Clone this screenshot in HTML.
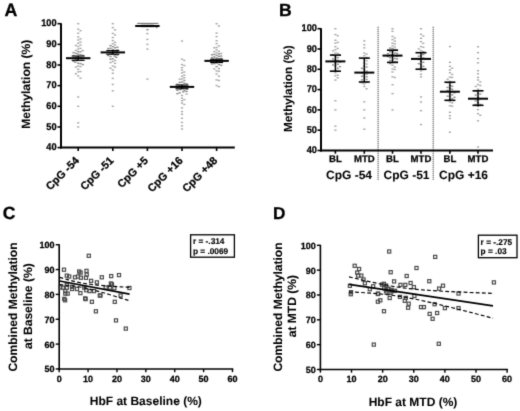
<!DOCTYPE html>
<html><head><meta charset="utf-8"><style>
html,body{margin:0;padding:0;background:#fff;}
svg{display:block;font-family:"Liberation Sans", sans-serif;text-rendering:geometricPrecision;}
text{stroke:#000;stroke-width:0.05px;}
text.s{stroke:#000;stroke-width:0.25px;}
</style></head><body>
<svg width="520" height="411" viewBox="0 0 520 411">
<defs><filter id="bl" x="0" y="0" width="520" height="411" filterUnits="userSpaceOnUse" color-interpolation-filters="sRGB"><feConvolveMatrix order="3" kernelMatrix="0.0144 0.0912 0.0144 0.0912 0.5776 0.0912 0.0144 0.0912 0.0144" divisor="1" edgeMode="duplicate"/></filter></defs>
<rect width="520" height="411" fill="#fff"/>
<g filter="url(#bl)">
<rect width="520" height="411" fill="#fff"/>
<text x="4.60" y="16.10" font-size="17.8" text-anchor="start" font-weight="bold" style="stroke-width:0.3px">A</text>
<line x1="61.00" y1="23.20" x2="61.00" y2="148.60" stroke="#000" stroke-width="2" />
<line x1="60.00" y1="147.60" x2="234.80" y2="147.60" stroke="#000" stroke-width="2" />
<line x1="57.50" y1="147.60" x2="61.00" y2="147.60" stroke="#000" stroke-width="1.6" />
<text class="s" transform="translate(56.6,150.35) scale(0.94,1)" font-size="9.8" text-anchor="end" font-weight="bold">40</text>
<line x1="57.50" y1="126.95" x2="61.00" y2="126.95" stroke="#000" stroke-width="1.6" />
<text class="s" transform="translate(56.6,129.70) scale(0.94,1)" font-size="9.8" text-anchor="end" font-weight="bold">50</text>
<line x1="57.50" y1="106.30" x2="61.00" y2="106.30" stroke="#000" stroke-width="1.6" />
<text class="s" transform="translate(56.6,109.05) scale(0.94,1)" font-size="9.8" text-anchor="end" font-weight="bold">60</text>
<line x1="57.50" y1="85.65" x2="61.00" y2="85.65" stroke="#000" stroke-width="1.6" />
<text class="s" transform="translate(56.6,88.40) scale(0.94,1)" font-size="9.8" text-anchor="end" font-weight="bold">70</text>
<line x1="57.50" y1="65.00" x2="61.00" y2="65.00" stroke="#000" stroke-width="1.6" />
<text class="s" transform="translate(56.6,67.75) scale(0.94,1)" font-size="9.8" text-anchor="end" font-weight="bold">80</text>
<line x1="57.50" y1="44.35" x2="61.00" y2="44.35" stroke="#000" stroke-width="1.6" />
<text class="s" transform="translate(56.6,47.10) scale(0.94,1)" font-size="9.8" text-anchor="end" font-weight="bold">90</text>
<line x1="57.50" y1="23.70" x2="61.00" y2="23.70" stroke="#000" stroke-width="1.6" />
<text class="s" transform="translate(56.6,26.45) scale(0.94,1)" font-size="9.8" text-anchor="end" font-weight="bold">100</text>
<line x1="78.20" y1="147.60" x2="78.20" y2="151.00" stroke="#000" stroke-width="1.6" />
<line x1="112.80" y1="147.60" x2="112.80" y2="151.00" stroke="#000" stroke-width="1.6" />
<line x1="147.40" y1="147.60" x2="147.40" y2="151.00" stroke="#000" stroke-width="1.6" />
<line x1="182.00" y1="147.60" x2="182.00" y2="151.00" stroke="#000" stroke-width="1.6" />
<line x1="216.60" y1="147.60" x2="216.60" y2="151.00" stroke="#000" stroke-width="1.6" />
<text class="s" transform="translate(79.70,161.30) rotate(-45)" font-size="10.9" text-anchor="end" font-weight="bold">CpG -54</text>
<text class="s" transform="translate(114.30,161.30) rotate(-45)" font-size="10.9" text-anchor="end" font-weight="bold">CpG -51</text>
<text class="s" transform="translate(148.90,161.30) rotate(-45)" font-size="10.9" text-anchor="end" font-weight="bold">CpG +5</text>
<text class="s" transform="translate(183.50,161.30) rotate(-45)" font-size="10.9" text-anchor="end" font-weight="bold">CpG +16</text>
<text class="s" transform="translate(218.10,161.30) rotate(-45)" font-size="10.9" text-anchor="end" font-weight="bold">CpG +48</text>
<text transform="translate(30.3,84.3) rotate(-90)" font-size="12.05" text-anchor="middle" font-weight="bold">Methylation (%)</text>
<text x="279.00" y="15.50" font-size="17.6" text-anchor="start" font-weight="bold" style="stroke-width:0.3px">B</text>
<line x1="321.00" y1="28.20" x2="321.00" y2="151.50" stroke="#000" stroke-width="2" />
<line x1="320.00" y1="150.50" x2="493.00" y2="150.50" stroke="#000" stroke-width="2" />
<line x1="317.50" y1="150.50" x2="321.00" y2="150.50" stroke="#000" stroke-width="1.6" />
<text class="s" transform="translate(317.0,153.25) scale(0.94,1)" font-size="9.8" text-anchor="end" font-weight="bold">40</text>
<line x1="317.50" y1="130.20" x2="321.00" y2="130.20" stroke="#000" stroke-width="1.6" />
<text class="s" transform="translate(317.0,132.95) scale(0.94,1)" font-size="9.8" text-anchor="end" font-weight="bold">50</text>
<line x1="317.50" y1="109.90" x2="321.00" y2="109.90" stroke="#000" stroke-width="1.6" />
<text class="s" transform="translate(317.0,112.65) scale(0.94,1)" font-size="9.8" text-anchor="end" font-weight="bold">60</text>
<line x1="317.50" y1="89.60" x2="321.00" y2="89.60" stroke="#000" stroke-width="1.6" />
<text class="s" transform="translate(317.0,92.35) scale(0.94,1)" font-size="9.8" text-anchor="end" font-weight="bold">70</text>
<line x1="317.50" y1="69.30" x2="321.00" y2="69.30" stroke="#000" stroke-width="1.6" />
<text class="s" transform="translate(317.0,72.05) scale(0.94,1)" font-size="9.8" text-anchor="end" font-weight="bold">80</text>
<line x1="317.50" y1="49.00" x2="321.00" y2="49.00" stroke="#000" stroke-width="1.6" />
<text class="s" transform="translate(317.0,51.75) scale(0.94,1)" font-size="9.8" text-anchor="end" font-weight="bold">90</text>
<line x1="317.50" y1="28.70" x2="321.00" y2="28.70" stroke="#000" stroke-width="1.6" />
<text class="s" transform="translate(317.0,31.45) scale(0.94,1)" font-size="9.8" text-anchor="end" font-weight="bold">100</text>
<line x1="335.40" y1="150.50" x2="335.40" y2="153.70" stroke="#000" stroke-width="1.6" />
<line x1="364.30" y1="150.50" x2="364.30" y2="153.70" stroke="#000" stroke-width="1.6" />
<line x1="392.50" y1="150.50" x2="392.50" y2="153.70" stroke="#000" stroke-width="1.6" />
<line x1="421.00" y1="150.50" x2="421.00" y2="153.70" stroke="#000" stroke-width="1.6" />
<line x1="449.90" y1="150.50" x2="449.90" y2="153.70" stroke="#000" stroke-width="1.6" />
<line x1="478.00" y1="150.50" x2="478.00" y2="153.70" stroke="#000" stroke-width="1.6" />
<text class="s" x="335.40" y="162.40" font-size="9.6" text-anchor="middle" font-weight="bold" >BL</text>
<text class="s" x="364.30" y="162.40" font-size="9.6" text-anchor="middle" font-weight="bold" >MTD</text>
<text class="s" x="392.50" y="162.40" font-size="9.6" text-anchor="middle" font-weight="bold" >BL</text>
<text class="s" x="421.00" y="162.40" font-size="9.6" text-anchor="middle" font-weight="bold" >MTD</text>
<text class="s" x="449.90" y="162.40" font-size="9.6" text-anchor="middle" font-weight="bold" >BL</text>
<text class="s" x="478.00" y="162.40" font-size="9.6" text-anchor="middle" font-weight="bold" >MTD</text>
<text x="349.00" y="178.80" font-size="12" text-anchor="middle" font-weight="bold" >CpG -54</text>
<text x="406.50" y="178.80" font-size="12" text-anchor="middle" font-weight="bold" >CpG -51</text>
<text x="463.50" y="178.80" font-size="12" text-anchor="middle" font-weight="bold" >CpG +16</text>
<line x1="378.10" y1="26.80" x2="378.10" y2="180.50" stroke="#333" stroke-width="1.1" stroke-dasharray="1,1"/>
<line x1="433.20" y1="26.80" x2="433.20" y2="180.50" stroke="#333" stroke-width="1.1" stroke-dasharray="1,1"/>
<text transform="translate(291.8,88.7) rotate(-90)" font-size="11.75" text-anchor="middle" font-weight="bold">Methylation (%)</text>
<rect x="77.10" y="23.00" width="2.20" height="1.4" fill="#a8a8a8"/>
<rect x="77.10" y="28.44" width="2.20" height="1.4" fill="#a8a8a8"/>
<rect x="79.40" y="30.01" width="2.20" height="1.4" fill="#a8a8a8"/>
<rect x="77.10" y="32.58" width="2.20" height="1.4" fill="#a8a8a8"/>
<rect x="77.10" y="36.20" width="2.20" height="1.4" fill="#a8a8a8"/>
<rect x="79.40" y="38.18" width="2.20" height="1.4" fill="#a8a8a8"/>
<rect x="77.10" y="39.31" width="2.20" height="1.4" fill="#a8a8a8"/>
<rect x="79.40" y="41.43" width="2.20" height="1.4" fill="#a8a8a8"/>
<rect x="77.10" y="42.52" width="2.20" height="1.4" fill="#a8a8a8"/>
<rect x="79.40" y="44.34" width="2.20" height="1.4" fill="#a8a8a8"/>
<rect x="74.80" y="44.74" width="2.20" height="1.4" fill="#a8a8a8"/>
<rect x="77.10" y="45.78" width="2.20" height="1.4" fill="#a8a8a8"/>
<rect x="79.40" y="47.73" width="2.20" height="1.4" fill="#a8a8a8"/>
<rect x="77.10" y="48.34" width="2.20" height="1.4" fill="#a8a8a8"/>
<rect x="74.80" y="49.76" width="2.20" height="1.4" fill="#a8a8a8"/>
<rect x="81.70" y="49.87" width="2.20" height="1.4" fill="#a8a8a8"/>
<rect x="77.10" y="50.95" width="2.20" height="1.4" fill="#8c8c8c"/>
<rect x="79.40" y="51.11" width="2.20" height="1.4" fill="#8c8c8c"/>
<rect x="72.50" y="51.93" width="2.20" height="1.4" fill="#8c8c8c"/>
<rect x="74.80" y="52.73" width="2.20" height="1.4" fill="#8c8c8c"/>
<rect x="77.10" y="53.45" width="2.20" height="1.4" fill="#8c8c8c"/>
<rect x="79.40" y="54.07" width="2.20" height="1.4" fill="#8c8c8c"/>
<rect x="81.70" y="54.67" width="2.20" height="1.4" fill="#8c8c8c"/>
<rect x="72.50" y="54.94" width="2.20" height="1.4" fill="#8c8c8c"/>
<rect x="77.10" y="55.85" width="2.20" height="1.4" fill="#8c8c8c"/>
<rect x="74.80" y="56.14" width="2.20" height="1.4" fill="#8c8c8c"/>
<rect x="79.40" y="56.78" width="2.20" height="1.4" fill="#8c8c8c"/>
<rect x="81.70" y="57.41" width="2.20" height="1.4" fill="#8c8c8c"/>
<rect x="72.50" y="57.82" width="2.20" height="1.4" fill="#8c8c8c"/>
<rect x="81.23" y="58.04" width="2.20" height="1.4" fill="#8c8c8c"/>
<rect x="77.10" y="58.72" width="2.20" height="1.4" fill="#8c8c8c"/>
<rect x="74.80" y="58.88" width="2.20" height="1.4" fill="#8c8c8c"/>
<rect x="80.20" y="59.30" width="2.20" height="1.4" fill="#8c8c8c"/>
<rect x="76.15" y="59.92" width="2.20" height="1.4" fill="#8c8c8c"/>
<rect x="72.50" y="60.49" width="2.20" height="1.4" fill="#8c8c8c"/>
<rect x="74.21" y="61.54" width="2.20" height="1.4" fill="#8c8c8c"/>
<rect x="77.10" y="62.62" width="2.20" height="1.4" fill="#8c8c8c"/>
<rect x="79.40" y="62.90" width="2.20" height="1.4" fill="#8c8c8c"/>
<rect x="81.70" y="63.85" width="2.20" height="1.4" fill="#8c8c8c"/>
<rect x="77.10" y="65.31" width="2.20" height="1.4" fill="#a8a8a8"/>
<rect x="79.40" y="65.86" width="2.20" height="1.4" fill="#a8a8a8"/>
<rect x="74.80" y="66.41" width="2.20" height="1.4" fill="#a8a8a8"/>
<rect x="77.10" y="68.60" width="2.20" height="1.4" fill="#a8a8a8"/>
<rect x="79.40" y="70.82" width="2.20" height="1.4" fill="#a8a8a8"/>
<rect x="77.10" y="71.16" width="2.20" height="1.4" fill="#a8a8a8"/>
<rect x="74.80" y="73.02" width="2.20" height="1.4" fill="#a8a8a8"/>
<rect x="77.10" y="75.21" width="2.20" height="1.4" fill="#a8a8a8"/>
<rect x="79.40" y="77.50" width="2.20" height="1.4" fill="#a8a8a8"/>
<rect x="77.10" y="96.31" width="2.20" height="1.4" fill="#a8a8a8"/>
<rect x="77.10" y="105.60" width="2.20" height="1.4" fill="#a8a8a8"/>
<rect x="77.10" y="122.12" width="2.20" height="1.4" fill="#a8a8a8"/>
<rect x="77.10" y="126.25" width="2.20" height="1.4" fill="#a8a8a8"/>
<rect x="111.70" y="23.00" width="2.20" height="1.4" fill="#a8a8a8"/>
<rect x="111.70" y="26.94" width="2.20" height="1.4" fill="#a8a8a8"/>
<rect x="114.00" y="29.16" width="2.20" height="1.4" fill="#a8a8a8"/>
<rect x="111.70" y="32.73" width="2.20" height="1.4" fill="#a8a8a8"/>
<rect x="114.00" y="34.22" width="2.20" height="1.4" fill="#a8a8a8"/>
<rect x="111.70" y="36.86" width="2.20" height="1.4" fill="#a8a8a8"/>
<rect x="111.70" y="39.90" width="2.20" height="1.4" fill="#a8a8a8"/>
<rect x="114.00" y="41.64" width="2.20" height="1.4" fill="#a8a8a8"/>
<rect x="111.70" y="42.96" width="2.20" height="1.4" fill="#a8a8a8"/>
<rect x="114.00" y="44.21" width="2.20" height="1.4" fill="#a8a8a8"/>
<rect x="109.40" y="44.89" width="2.20" height="1.4" fill="#8c8c8c"/>
<rect x="111.70" y="45.90" width="2.20" height="1.4" fill="#8c8c8c"/>
<rect x="116.30" y="46.58" width="2.20" height="1.4" fill="#8c8c8c"/>
<rect x="114.00" y="47.02" width="2.20" height="1.4" fill="#8c8c8c"/>
<rect x="109.40" y="47.59" width="2.20" height="1.4" fill="#8c8c8c"/>
<rect x="107.10" y="47.90" width="2.20" height="1.4" fill="#8c8c8c"/>
<rect x="111.70" y="48.77" width="2.20" height="1.4" fill="#8c8c8c"/>
<rect x="116.30" y="49.23" width="2.20" height="1.4" fill="#8c8c8c"/>
<rect x="114.00" y="49.81" width="2.20" height="1.4" fill="#8c8c8c"/>
<rect x="107.31" y="49.86" width="2.20" height="1.4" fill="#8c8c8c"/>
<rect x="115.87" y="50.77" width="2.20" height="1.4" fill="#8c8c8c"/>
<rect x="111.70" y="51.19" width="2.20" height="1.4" fill="#8c8c8c"/>
<rect x="114.87" y="51.45" width="2.20" height="1.4" fill="#8c8c8c"/>
<rect x="108.76" y="52.08" width="2.20" height="1.4" fill="#8c8c8c"/>
<rect x="111.65" y="52.59" width="2.20" height="1.4" fill="#8c8c8c"/>
<rect x="111.09" y="53.03" width="2.20" height="1.4" fill="#8c8c8c"/>
<rect x="114.00" y="53.92" width="2.20" height="1.4" fill="#8c8c8c"/>
<rect x="116.30" y="54.33" width="2.20" height="1.4" fill="#8c8c8c"/>
<rect x="107.10" y="54.79" width="2.20" height="1.4" fill="#8c8c8c"/>
<rect x="113.52" y="55.42" width="2.20" height="1.4" fill="#8c8c8c"/>
<rect x="109.40" y="55.83" width="2.20" height="1.4" fill="#8c8c8c"/>
<rect x="115.16" y="56.59" width="2.20" height="1.4" fill="#8c8c8c"/>
<rect x="111.70" y="58.10" width="2.20" height="1.4" fill="#8c8c8c"/>
<rect x="109.40" y="58.45" width="2.20" height="1.4" fill="#8c8c8c"/>
<rect x="114.00" y="59.75" width="2.20" height="1.4" fill="#a8a8a8"/>
<rect x="111.70" y="60.77" width="2.20" height="1.4" fill="#a8a8a8"/>
<rect x="109.40" y="61.84" width="2.20" height="1.4" fill="#a8a8a8"/>
<rect x="114.00" y="62.69" width="2.20" height="1.4" fill="#a8a8a8"/>
<rect x="111.70" y="65.30" width="2.20" height="1.4" fill="#a8a8a8"/>
<rect x="114.00" y="66.35" width="2.20" height="1.4" fill="#a8a8a8"/>
<rect x="109.40" y="67.60" width="2.20" height="1.4" fill="#a8a8a8"/>
<rect x="111.70" y="69.33" width="2.20" height="1.4" fill="#a8a8a8"/>
<rect x="111.70" y="72.54" width="2.20" height="1.4" fill="#a8a8a8"/>
<rect x="111.70" y="77.72" width="2.20" height="1.4" fill="#a8a8a8"/>
<rect x="111.70" y="83.71" width="2.20" height="1.4" fill="#a8a8a8"/>
<rect x="111.70" y="90.11" width="2.20" height="1.4" fill="#a8a8a8"/>
<rect x="111.70" y="105.60" width="2.20" height="1.4" fill="#a8a8a8"/>
<rect x="146.30" y="25.00" width="2.20" height="1.4" fill="#8c8c8c"/>
<rect x="148.60" y="25.10" width="2.20" height="1.4" fill="#8c8c8c"/>
<rect x="144.00" y="25.17" width="2.20" height="1.4" fill="#8c8c8c"/>
<rect x="150.90" y="25.25" width="2.20" height="1.4" fill="#8c8c8c"/>
<rect x="141.70" y="25.39" width="2.20" height="1.4" fill="#8c8c8c"/>
<rect x="153.20" y="25.44" width="2.20" height="1.4" fill="#8c8c8c"/>
<rect x="139.40" y="25.57" width="2.20" height="1.4" fill="#8c8c8c"/>
<rect x="155.50" y="26.72" width="2.20" height="1.4" fill="#8c8c8c"/>
<rect x="146.30" y="28.99" width="2.20" height="1.4" fill="#8c8c8c"/>
<rect x="146.30" y="32.91" width="2.20" height="1.4" fill="#a8a8a8"/>
<rect x="146.30" y="38.69" width="2.20" height="1.4" fill="#a8a8a8"/>
<rect x="146.30" y="43.65" width="2.20" height="1.4" fill="#a8a8a8"/>
<rect x="146.30" y="48.40" width="2.20" height="1.4" fill="#a8a8a8"/>
<rect x="146.30" y="78.34" width="2.20" height="1.4" fill="#a8a8a8"/>
<rect x="180.90" y="40.35" width="2.20" height="1.4" fill="#a8a8a8"/>
<rect x="180.90" y="58.48" width="2.20" height="1.4" fill="#a8a8a8"/>
<rect x="183.20" y="59.71" width="2.20" height="1.4" fill="#a8a8a8"/>
<rect x="180.90" y="63.86" width="2.20" height="1.4" fill="#a8a8a8"/>
<rect x="183.20" y="64.85" width="2.20" height="1.4" fill="#a8a8a8"/>
<rect x="180.90" y="66.95" width="2.20" height="1.4" fill="#a8a8a8"/>
<rect x="180.90" y="69.39" width="2.20" height="1.4" fill="#a8a8a8"/>
<rect x="183.20" y="71.34" width="2.20" height="1.4" fill="#a8a8a8"/>
<rect x="180.90" y="72.14" width="2.20" height="1.4" fill="#a8a8a8"/>
<rect x="183.20" y="74.50" width="2.20" height="1.4" fill="#a8a8a8"/>
<rect x="180.90" y="75.59" width="2.20" height="1.4" fill="#a8a8a8"/>
<rect x="183.20" y="77.00" width="2.20" height="1.4" fill="#a8a8a8"/>
<rect x="180.90" y="78.19" width="2.20" height="1.4" fill="#a8a8a8"/>
<rect x="178.60" y="78.50" width="2.20" height="1.4" fill="#a8a8a8"/>
<rect x="183.20" y="79.72" width="2.20" height="1.4" fill="#8c8c8c"/>
<rect x="180.90" y="81.30" width="2.20" height="1.4" fill="#8c8c8c"/>
<rect x="178.60" y="81.69" width="2.20" height="1.4" fill="#8c8c8c"/>
<rect x="183.20" y="82.51" width="2.20" height="1.4" fill="#8c8c8c"/>
<rect x="185.50" y="83.12" width="2.20" height="1.4" fill="#8c8c8c"/>
<rect x="176.30" y="83.64" width="2.20" height="1.4" fill="#8c8c8c"/>
<rect x="180.90" y="84.35" width="2.20" height="1.4" fill="#8c8c8c"/>
<rect x="178.60" y="84.46" width="2.20" height="1.4" fill="#8c8c8c"/>
<rect x="183.20" y="85.34" width="2.20" height="1.4" fill="#8c8c8c"/>
<rect x="185.50" y="85.56" width="2.20" height="1.4" fill="#8c8c8c"/>
<rect x="176.30" y="86.20" width="2.20" height="1.4" fill="#8c8c8c"/>
<rect x="177.76" y="86.61" width="2.20" height="1.4" fill="#8c8c8c"/>
<rect x="180.90" y="87.32" width="2.20" height="1.4" fill="#8c8c8c"/>
<rect x="181.43" y="87.67" width="2.20" height="1.4" fill="#8c8c8c"/>
<rect x="185.50" y="88.19" width="2.20" height="1.4" fill="#8c8c8c"/>
<rect x="179.34" y="88.87" width="2.20" height="1.4" fill="#8c8c8c"/>
<rect x="176.30" y="89.60" width="2.20" height="1.4" fill="#8c8c8c"/>
<rect x="183.20" y="90.13" width="2.20" height="1.4" fill="#8c8c8c"/>
<rect x="185.50" y="90.72" width="2.20" height="1.4" fill="#8c8c8c"/>
<rect x="182.15" y="91.18" width="2.20" height="1.4" fill="#8c8c8c"/>
<rect x="178.60" y="92.12" width="2.20" height="1.4" fill="#8c8c8c"/>
<rect x="176.30" y="92.96" width="2.20" height="1.4" fill="#8c8c8c"/>
<rect x="185.50" y="93.39" width="2.20" height="1.4" fill="#a8a8a8"/>
<rect x="180.90" y="94.78" width="2.20" height="1.4" fill="#a8a8a8"/>
<rect x="180.90" y="97.52" width="2.20" height="1.4" fill="#a8a8a8"/>
<rect x="183.20" y="98.97" width="2.20" height="1.4" fill="#a8a8a8"/>
<rect x="180.90" y="100.01" width="2.20" height="1.4" fill="#a8a8a8"/>
<rect x="180.90" y="102.44" width="2.20" height="1.4" fill="#a8a8a8"/>
<rect x="183.20" y="103.75" width="2.20" height="1.4" fill="#a8a8a8"/>
<rect x="180.90" y="107.21" width="2.20" height="1.4" fill="#a8a8a8"/>
<rect x="180.90" y="110.88" width="2.20" height="1.4" fill="#a8a8a8"/>
<rect x="180.90" y="113.59" width="2.20" height="1.4" fill="#a8a8a8"/>
<rect x="180.90" y="117.54" width="2.20" height="1.4" fill="#a8a8a8"/>
<rect x="180.90" y="121.71" width="2.20" height="1.4" fill="#a8a8a8"/>
<rect x="180.90" y="125.21" width="2.20" height="1.4" fill="#a8a8a8"/>
<rect x="180.90" y="128.31" width="2.20" height="1.4" fill="#a8a8a8"/>
<rect x="215.50" y="23.00" width="2.20" height="1.4" fill="#a8a8a8"/>
<rect x="217.80" y="25.31" width="2.20" height="1.4" fill="#a8a8a8"/>
<rect x="215.50" y="32.37" width="2.20" height="1.4" fill="#a8a8a8"/>
<rect x="215.50" y="35.92" width="2.20" height="1.4" fill="#a8a8a8"/>
<rect x="215.50" y="40.11" width="2.20" height="1.4" fill="#a8a8a8"/>
<rect x="215.50" y="42.97" width="2.20" height="1.4" fill="#a8a8a8"/>
<rect x="217.80" y="45.24" width="2.20" height="1.4" fill="#a8a8a8"/>
<rect x="215.50" y="46.81" width="2.20" height="1.4" fill="#a8a8a8"/>
<rect x="213.20" y="47.08" width="2.20" height="1.4" fill="#a8a8a8"/>
<rect x="215.50" y="49.23" width="2.20" height="1.4" fill="#a8a8a8"/>
<rect x="217.80" y="50.65" width="2.20" height="1.4" fill="#a8a8a8"/>
<rect x="213.20" y="50.91" width="2.20" height="1.4" fill="#a8a8a8"/>
<rect x="215.50" y="52.11" width="2.20" height="1.4" fill="#a8a8a8"/>
<rect x="220.10" y="52.78" width="2.20" height="1.4" fill="#a8a8a8"/>
<rect x="217.80" y="53.26" width="2.20" height="1.4" fill="#8c8c8c"/>
<rect x="213.20" y="53.67" width="2.20" height="1.4" fill="#8c8c8c"/>
<rect x="210.90" y="54.05" width="2.20" height="1.4" fill="#8c8c8c"/>
<rect x="215.50" y="54.67" width="2.20" height="1.4" fill="#8c8c8c"/>
<rect x="220.10" y="55.35" width="2.20" height="1.4" fill="#8c8c8c"/>
<rect x="217.80" y="55.70" width="2.20" height="1.4" fill="#8c8c8c"/>
<rect x="213.20" y="56.22" width="2.20" height="1.4" fill="#8c8c8c"/>
<rect x="210.90" y="56.91" width="2.20" height="1.4" fill="#8c8c8c"/>
<rect x="215.50" y="57.16" width="2.20" height="1.4" fill="#8c8c8c"/>
<rect x="220.10" y="57.79" width="2.20" height="1.4" fill="#8c8c8c"/>
<rect x="217.80" y="58.22" width="2.20" height="1.4" fill="#8c8c8c"/>
<rect x="212.33" y="58.55" width="2.20" height="1.4" fill="#8c8c8c"/>
<rect x="210.74" y="59.04" width="2.20" height="1.4" fill="#8c8c8c"/>
<rect x="214.25" y="59.52" width="2.20" height="1.4" fill="#8c8c8c"/>
<rect x="211.36" y="59.88" width="2.20" height="1.4" fill="#8c8c8c"/>
<rect x="210.30" y="60.17" width="2.20" height="1.4" fill="#8c8c8c"/>
<rect x="217.80" y="61.14" width="2.20" height="1.4" fill="#8c8c8c"/>
<rect x="220.10" y="61.40" width="2.20" height="1.4" fill="#8c8c8c"/>
<rect x="215.50" y="62.29" width="2.20" height="1.4" fill="#8c8c8c"/>
<rect x="213.20" y="62.97" width="2.20" height="1.4" fill="#8c8c8c"/>
<rect x="210.90" y="63.22" width="2.20" height="1.4" fill="#8c8c8c"/>
<rect x="217.80" y="63.83" width="2.20" height="1.4" fill="#8c8c8c"/>
<rect x="220.10" y="64.54" width="2.20" height="1.4" fill="#8c8c8c"/>
<rect x="215.50" y="65.95" width="2.20" height="1.4" fill="#8c8c8c"/>
<rect x="217.80" y="67.97" width="2.20" height="1.4" fill="#a8a8a8"/>
<rect x="213.20" y="68.21" width="2.20" height="1.4" fill="#a8a8a8"/>
<rect x="215.50" y="70.25" width="2.20" height="1.4" fill="#a8a8a8"/>
<rect x="217.80" y="70.67" width="2.20" height="1.4" fill="#a8a8a8"/>
<rect x="215.50" y="73.32" width="2.20" height="1.4" fill="#a8a8a8"/>
<rect x="217.80" y="75.56" width="2.20" height="1.4" fill="#a8a8a8"/>
<rect x="215.50" y="79.23" width="2.20" height="1.4" fill="#a8a8a8"/>
<rect x="217.80" y="79.80" width="2.20" height="1.4" fill="#a8a8a8"/>
<rect x="215.50" y="84.87" width="2.20" height="1.4" fill="#a8a8a8"/>
<rect x="217.80" y="85.94" width="2.20" height="1.4" fill="#a8a8a8"/>
<line x1="137.20" y1="23.40" x2="158.30" y2="23.40" stroke="#707070" stroke-width="1.1" />
<line x1="66.00" y1="58.19" x2="90.40" y2="58.19" stroke="#000" stroke-width="2" />
<line x1="78.20" y1="56.02" x2="78.20" y2="60.35" stroke="#000" stroke-width="1.2" />
<line x1="71.70" y1="56.02" x2="84.70" y2="56.02" stroke="#000" stroke-width="1.1" />
<line x1="71.70" y1="60.35" x2="84.70" y2="60.35" stroke="#000" stroke-width="1.1" />
<line x1="100.60" y1="52.40" x2="125.00" y2="52.40" stroke="#000" stroke-width="2" />
<line x1="112.80" y1="50.55" x2="112.80" y2="54.26" stroke="#000" stroke-width="1.2" />
<line x1="106.30" y1="50.55" x2="119.30" y2="50.55" stroke="#000" stroke-width="1.1" />
<line x1="106.30" y1="54.26" x2="119.30" y2="54.26" stroke="#000" stroke-width="1.1" />
<line x1="135.20" y1="25.97" x2="159.60" y2="25.97" stroke="#000" stroke-width="2" />
<line x1="147.40" y1="25.35" x2="147.40" y2="26.59" stroke="#000" stroke-width="1.2" />
<line x1="140.90" y1="25.35" x2="153.90" y2="25.35" stroke="#000" stroke-width="1.1" />
<line x1="140.90" y1="26.59" x2="153.90" y2="26.59" stroke="#000" stroke-width="1.1" />
<line x1="169.80" y1="86.89" x2="194.20" y2="86.89" stroke="#000" stroke-width="2" />
<line x1="182.00" y1="85.03" x2="182.00" y2="88.75" stroke="#000" stroke-width="1.2" />
<line x1="175.50" y1="85.03" x2="188.50" y2="85.03" stroke="#000" stroke-width="1.1" />
<line x1="175.50" y1="88.75" x2="188.50" y2="88.75" stroke="#000" stroke-width="1.1" />
<line x1="204.40" y1="60.87" x2="228.80" y2="60.87" stroke="#000" stroke-width="2" />
<line x1="216.60" y1="59.22" x2="216.60" y2="62.52" stroke="#000" stroke-width="1.2" />
<line x1="210.10" y1="59.22" x2="223.10" y2="59.22" stroke="#000" stroke-width="1.1" />
<line x1="210.10" y1="62.52" x2="223.10" y2="62.52" stroke="#000" stroke-width="1.1" />
<rect x="334.30" y="28.00" width="2.20" height="1.4" fill="#a8a8a8"/>
<rect x="334.30" y="33.88" width="2.20" height="1.4" fill="#a8a8a8"/>
<rect x="336.60" y="34.98" width="2.20" height="1.4" fill="#a8a8a8"/>
<rect x="334.30" y="39.56" width="2.20" height="1.4" fill="#a8a8a8"/>
<rect x="336.60" y="41.67" width="2.20" height="1.4" fill="#a8a8a8"/>
<rect x="334.30" y="42.49" width="2.20" height="1.4" fill="#a8a8a8"/>
<rect x="334.30" y="45.98" width="2.20" height="1.4" fill="#a8a8a8"/>
<rect x="336.60" y="47.77" width="2.20" height="1.4" fill="#a8a8a8"/>
<rect x="334.30" y="49.06" width="2.20" height="1.4" fill="#a8a8a8"/>
<rect x="332.00" y="50.17" width="2.20" height="1.4" fill="#a8a8a8"/>
<rect x="334.30" y="52.34" width="2.20" height="1.4" fill="#a8a8a8"/>
<rect x="336.60" y="52.66" width="2.20" height="1.4" fill="#a8a8a8"/>
<rect x="332.00" y="54.09" width="2.20" height="1.4" fill="#8c8c8c"/>
<rect x="338.90" y="54.54" width="2.20" height="1.4" fill="#8c8c8c"/>
<rect x="334.30" y="56.22" width="2.20" height="1.4" fill="#8c8c8c"/>
<rect x="336.60" y="56.97" width="2.20" height="1.4" fill="#8c8c8c"/>
<rect x="332.00" y="58.17" width="2.20" height="1.4" fill="#8c8c8c"/>
<rect x="334.30" y="59.21" width="2.20" height="1.4" fill="#8c8c8c"/>
<rect x="336.60" y="59.63" width="2.20" height="1.4" fill="#8c8c8c"/>
<rect x="332.00" y="60.64" width="2.20" height="1.4" fill="#8c8c8c"/>
<rect x="338.90" y="61.33" width="2.20" height="1.4" fill="#8c8c8c"/>
<rect x="334.30" y="62.42" width="2.20" height="1.4" fill="#8c8c8c"/>
<rect x="336.60" y="63.58" width="2.20" height="1.4" fill="#8c8c8c"/>
<rect x="332.00" y="64.23" width="2.20" height="1.4" fill="#8c8c8c"/>
<rect x="334.30" y="65.29" width="2.20" height="1.4" fill="#8c8c8c"/>
<rect x="338.90" y="65.93" width="2.20" height="1.4" fill="#8c8c8c"/>
<rect x="336.60" y="67.60" width="2.20" height="1.4" fill="#8c8c8c"/>
<rect x="334.30" y="69.25" width="2.20" height="1.4" fill="#a8a8a8"/>
<rect x="336.60" y="70.46" width="2.20" height="1.4" fill="#a8a8a8"/>
<rect x="334.30" y="72.20" width="2.20" height="1.4" fill="#a8a8a8"/>
<rect x="336.60" y="74.46" width="2.20" height="1.4" fill="#a8a8a8"/>
<rect x="334.30" y="75.05" width="2.20" height="1.4" fill="#a8a8a8"/>
<rect x="336.60" y="77.16" width="2.20" height="1.4" fill="#a8a8a8"/>
<rect x="334.30" y="79.41" width="2.20" height="1.4" fill="#a8a8a8"/>
<rect x="334.30" y="100.06" width="2.20" height="1.4" fill="#a8a8a8"/>
<rect x="334.30" y="109.20" width="2.20" height="1.4" fill="#a8a8a8"/>
<rect x="334.30" y="125.44" width="2.20" height="1.4" fill="#a8a8a8"/>
<rect x="334.30" y="129.50" width="2.20" height="1.4" fill="#a8a8a8"/>
<rect x="363.20" y="40.20" width="2.20" height="1.4" fill="#a8a8a8"/>
<rect x="363.20" y="44.04" width="2.20" height="1.4" fill="#a8a8a8"/>
<rect x="363.20" y="47.15" width="2.20" height="1.4" fill="#a8a8a8"/>
<rect x="363.20" y="52.35" width="2.20" height="1.4" fill="#a8a8a8"/>
<rect x="365.50" y="53.44" width="2.20" height="1.4" fill="#a8a8a8"/>
<rect x="363.20" y="55.01" width="2.20" height="1.4" fill="#a8a8a8"/>
<rect x="365.50" y="56.92" width="2.20" height="1.4" fill="#a8a8a8"/>
<rect x="363.20" y="59.04" width="2.20" height="1.4" fill="#a8a8a8"/>
<rect x="365.50" y="60.18" width="2.20" height="1.4" fill="#a8a8a8"/>
<rect x="363.20" y="62.33" width="2.20" height="1.4" fill="#a8a8a8"/>
<rect x="365.50" y="63.39" width="2.20" height="1.4" fill="#a8a8a8"/>
<rect x="363.20" y="65.50" width="2.20" height="1.4" fill="#8c8c8c"/>
<rect x="365.50" y="66.32" width="2.20" height="1.4" fill="#8c8c8c"/>
<rect x="360.90" y="67.61" width="2.20" height="1.4" fill="#8c8c8c"/>
<rect x="363.20" y="68.72" width="2.20" height="1.4" fill="#8c8c8c"/>
<rect x="365.50" y="70.46" width="2.20" height="1.4" fill="#8c8c8c"/>
<rect x="363.20" y="71.46" width="2.20" height="1.4" fill="#8c8c8c"/>
<rect x="360.90" y="72.39" width="2.20" height="1.4" fill="#8c8c8c"/>
<rect x="365.50" y="73.43" width="2.20" height="1.4" fill="#8c8c8c"/>
<rect x="363.20" y="74.39" width="2.20" height="1.4" fill="#8c8c8c"/>
<rect x="360.90" y="75.51" width="2.20" height="1.4" fill="#8c8c8c"/>
<rect x="365.50" y="76.01" width="2.20" height="1.4" fill="#8c8c8c"/>
<rect x="363.20" y="77.08" width="2.20" height="1.4" fill="#8c8c8c"/>
<rect x="365.50" y="78.67" width="2.20" height="1.4" fill="#8c8c8c"/>
<rect x="360.90" y="79.18" width="2.20" height="1.4" fill="#8c8c8c"/>
<rect x="363.20" y="80.75" width="2.20" height="1.4" fill="#a8a8a8"/>
<rect x="365.50" y="81.12" width="2.20" height="1.4" fill="#a8a8a8"/>
<rect x="360.90" y="82.05" width="2.20" height="1.4" fill="#a8a8a8"/>
<rect x="363.20" y="83.29" width="2.20" height="1.4" fill="#a8a8a8"/>
<rect x="363.20" y="85.78" width="2.20" height="1.4" fill="#a8a8a8"/>
<rect x="365.50" y="88.07" width="2.20" height="1.4" fill="#a8a8a8"/>
<rect x="363.20" y="101.08" width="2.20" height="1.4" fill="#a8a8a8"/>
<rect x="363.20" y="109.20" width="2.20" height="1.4" fill="#a8a8a8"/>
<rect x="363.20" y="117.32" width="2.20" height="1.4" fill="#a8a8a8"/>
<rect x="363.20" y="128.48" width="2.20" height="1.4" fill="#a8a8a8"/>
<rect x="391.40" y="28.00" width="2.20" height="1.4" fill="#a8a8a8"/>
<rect x="391.40" y="30.52" width="2.20" height="1.4" fill="#a8a8a8"/>
<rect x="391.40" y="35.72" width="2.20" height="1.4" fill="#a8a8a8"/>
<rect x="393.70" y="37.32" width="2.20" height="1.4" fill="#a8a8a8"/>
<rect x="391.40" y="38.87" width="2.20" height="1.4" fill="#a8a8a8"/>
<rect x="393.70" y="40.41" width="2.20" height="1.4" fill="#a8a8a8"/>
<rect x="391.40" y="42.57" width="2.20" height="1.4" fill="#a8a8a8"/>
<rect x="393.70" y="43.27" width="2.20" height="1.4" fill="#a8a8a8"/>
<rect x="391.40" y="45.24" width="2.20" height="1.4" fill="#a8a8a8"/>
<rect x="393.70" y="46.37" width="2.20" height="1.4" fill="#a8a8a8"/>
<rect x="389.10" y="47.39" width="2.20" height="1.4" fill="#8c8c8c"/>
<rect x="391.40" y="47.90" width="2.20" height="1.4" fill="#8c8c8c"/>
<rect x="393.70" y="48.85" width="2.20" height="1.4" fill="#8c8c8c"/>
<rect x="396.00" y="49.70" width="2.20" height="1.4" fill="#8c8c8c"/>
<rect x="391.40" y="50.68" width="2.20" height="1.4" fill="#8c8c8c"/>
<rect x="389.10" y="51.20" width="2.20" height="1.4" fill="#8c8c8c"/>
<rect x="393.70" y="52.33" width="2.20" height="1.4" fill="#8c8c8c"/>
<rect x="396.00" y="52.76" width="2.20" height="1.4" fill="#8c8c8c"/>
<rect x="386.80" y="52.99" width="2.20" height="1.4" fill="#8c8c8c"/>
<rect x="391.40" y="53.76" width="2.20" height="1.4" fill="#8c8c8c"/>
<rect x="389.10" y="54.43" width="2.20" height="1.4" fill="#8c8c8c"/>
<rect x="393.70" y="54.99" width="2.20" height="1.4" fill="#8c8c8c"/>
<rect x="396.00" y="55.66" width="2.20" height="1.4" fill="#8c8c8c"/>
<rect x="386.80" y="55.84" width="2.20" height="1.4" fill="#8c8c8c"/>
<rect x="391.40" y="56.39" width="2.20" height="1.4" fill="#8c8c8c"/>
<rect x="389.10" y="57.09" width="2.20" height="1.4" fill="#8c8c8c"/>
<rect x="393.70" y="57.83" width="2.20" height="1.4" fill="#8c8c8c"/>
<rect x="396.00" y="58.27" width="2.20" height="1.4" fill="#8c8c8c"/>
<rect x="391.40" y="59.17" width="2.20" height="1.4" fill="#8c8c8c"/>
<rect x="389.10" y="59.96" width="2.20" height="1.4" fill="#8c8c8c"/>
<rect x="393.70" y="61.03" width="2.20" height="1.4" fill="#8c8c8c"/>
<rect x="396.00" y="61.26" width="2.20" height="1.4" fill="#8c8c8c"/>
<rect x="391.40" y="62.04" width="2.20" height="1.4" fill="#8c8c8c"/>
<rect x="389.10" y="62.89" width="2.20" height="1.4" fill="#8c8c8c"/>
<rect x="391.40" y="64.50" width="2.20" height="1.4" fill="#a8a8a8"/>
<rect x="393.70" y="66.31" width="2.20" height="1.4" fill="#a8a8a8"/>
<rect x="391.40" y="68.35" width="2.20" height="1.4" fill="#a8a8a8"/>
<rect x="393.70" y="68.77" width="2.20" height="1.4" fill="#a8a8a8"/>
<rect x="391.40" y="71.27" width="2.20" height="1.4" fill="#a8a8a8"/>
<rect x="391.40" y="76.05" width="2.20" height="1.4" fill="#a8a8a8"/>
<rect x="393.70" y="76.79" width="2.20" height="1.4" fill="#a8a8a8"/>
<rect x="391.40" y="84.04" width="2.20" height="1.4" fill="#a8a8a8"/>
<rect x="391.40" y="92.96" width="2.20" height="1.4" fill="#a8a8a8"/>
<rect x="391.40" y="109.20" width="2.20" height="1.4" fill="#a8a8a8"/>
<rect x="419.90" y="28.00" width="2.20" height="1.4" fill="#a8a8a8"/>
<rect x="419.90" y="33.67" width="2.20" height="1.4" fill="#a8a8a8"/>
<rect x="422.20" y="35.31" width="2.20" height="1.4" fill="#a8a8a8"/>
<rect x="419.90" y="37.62" width="2.20" height="1.4" fill="#a8a8a8"/>
<rect x="419.90" y="41.00" width="2.20" height="1.4" fill="#a8a8a8"/>
<rect x="422.20" y="42.66" width="2.20" height="1.4" fill="#a8a8a8"/>
<rect x="419.90" y="45.84" width="2.20" height="1.4" fill="#a8a8a8"/>
<rect x="422.20" y="46.61" width="2.20" height="1.4" fill="#a8a8a8"/>
<rect x="417.60" y="48.21" width="2.20" height="1.4" fill="#a8a8a8"/>
<rect x="419.90" y="49.91" width="2.20" height="1.4" fill="#a8a8a8"/>
<rect x="422.20" y="51.10" width="2.20" height="1.4" fill="#8c8c8c"/>
<rect x="419.90" y="52.37" width="2.20" height="1.4" fill="#8c8c8c"/>
<rect x="422.20" y="53.82" width="2.20" height="1.4" fill="#8c8c8c"/>
<rect x="419.90" y="55.29" width="2.20" height="1.4" fill="#8c8c8c"/>
<rect x="417.60" y="55.51" width="2.20" height="1.4" fill="#8c8c8c"/>
<rect x="422.20" y="57.34" width="2.20" height="1.4" fill="#8c8c8c"/>
<rect x="419.90" y="58.10" width="2.20" height="1.4" fill="#8c8c8c"/>
<rect x="417.60" y="58.75" width="2.20" height="1.4" fill="#8c8c8c"/>
<rect x="419.90" y="60.64" width="2.20" height="1.4" fill="#8c8c8c"/>
<rect x="422.20" y="61.64" width="2.20" height="1.4" fill="#8c8c8c"/>
<rect x="417.60" y="63.00" width="2.20" height="1.4" fill="#8c8c8c"/>
<rect x="419.90" y="64.11" width="2.20" height="1.4" fill="#8c8c8c"/>
<rect x="422.20" y="65.67" width="2.20" height="1.4" fill="#8c8c8c"/>
<rect x="419.90" y="66.68" width="2.20" height="1.4" fill="#a8a8a8"/>
<rect x="422.20" y="69.00" width="2.20" height="1.4" fill="#a8a8a8"/>
<rect x="419.90" y="70.18" width="2.20" height="1.4" fill="#a8a8a8"/>
<rect x="419.90" y="73.62" width="2.20" height="1.4" fill="#a8a8a8"/>
<rect x="419.90" y="76.17" width="2.20" height="1.4" fill="#a8a8a8"/>
<rect x="419.90" y="96.21" width="2.20" height="1.4" fill="#a8a8a8"/>
<rect x="419.90" y="101.28" width="2.20" height="1.4" fill="#a8a8a8"/>
<rect x="419.90" y="110.01" width="2.20" height="1.4" fill="#a8a8a8"/>
<rect x="419.90" y="123.82" width="2.20" height="1.4" fill="#a8a8a8"/>
<rect x="448.80" y="45.86" width="2.20" height="1.4" fill="#a8a8a8"/>
<rect x="448.80" y="61.61" width="2.20" height="1.4" fill="#a8a8a8"/>
<rect x="448.80" y="65.66" width="2.20" height="1.4" fill="#a8a8a8"/>
<rect x="451.10" y="67.53" width="2.20" height="1.4" fill="#a8a8a8"/>
<rect x="448.80" y="69.22" width="2.20" height="1.4" fill="#a8a8a8"/>
<rect x="448.80" y="71.99" width="2.20" height="1.4" fill="#a8a8a8"/>
<rect x="451.10" y="73.71" width="2.20" height="1.4" fill="#a8a8a8"/>
<rect x="448.80" y="76.45" width="2.20" height="1.4" fill="#a8a8a8"/>
<rect x="451.10" y="76.74" width="2.20" height="1.4" fill="#a8a8a8"/>
<rect x="446.50" y="78.51" width="2.20" height="1.4" fill="#a8a8a8"/>
<rect x="448.80" y="80.69" width="2.20" height="1.4" fill="#a8a8a8"/>
<rect x="451.10" y="82.04" width="2.20" height="1.4" fill="#a8a8a8"/>
<rect x="446.50" y="82.18" width="2.20" height="1.4" fill="#a8a8a8"/>
<rect x="448.80" y="84.63" width="2.20" height="1.4" fill="#8c8c8c"/>
<rect x="451.10" y="85.55" width="2.20" height="1.4" fill="#8c8c8c"/>
<rect x="446.50" y="86.70" width="2.20" height="1.4" fill="#8c8c8c"/>
<rect x="448.80" y="87.64" width="2.20" height="1.4" fill="#8c8c8c"/>
<rect x="451.10" y="88.60" width="2.20" height="1.4" fill="#8c8c8c"/>
<rect x="446.50" y="89.71" width="2.20" height="1.4" fill="#8c8c8c"/>
<rect x="448.80" y="90.78" width="2.20" height="1.4" fill="#8c8c8c"/>
<rect x="451.10" y="91.11" width="2.20" height="1.4" fill="#8c8c8c"/>
<rect x="453.40" y="92.09" width="2.20" height="1.4" fill="#8c8c8c"/>
<rect x="448.80" y="93.20" width="2.20" height="1.4" fill="#8c8c8c"/>
<rect x="451.10" y="94.25" width="2.20" height="1.4" fill="#8c8c8c"/>
<rect x="446.50" y="95.45" width="2.20" height="1.4" fill="#8c8c8c"/>
<rect x="448.80" y="95.71" width="2.20" height="1.4" fill="#8c8c8c"/>
<rect x="453.40" y="96.61" width="2.20" height="1.4" fill="#8c8c8c"/>
<rect x="451.10" y="97.90" width="2.20" height="1.4" fill="#8c8c8c"/>
<rect x="448.80" y="98.72" width="2.20" height="1.4" fill="#8c8c8c"/>
<rect x="446.50" y="99.89" width="2.20" height="1.4" fill="#a8a8a8"/>
<rect x="448.80" y="101.23" width="2.20" height="1.4" fill="#a8a8a8"/>
<rect x="451.10" y="102.18" width="2.20" height="1.4" fill="#a8a8a8"/>
<rect x="448.80" y="105.09" width="2.20" height="1.4" fill="#a8a8a8"/>
<rect x="451.10" y="105.54" width="2.20" height="1.4" fill="#a8a8a8"/>
<rect x="448.80" y="111.62" width="2.20" height="1.4" fill="#a8a8a8"/>
<rect x="448.80" y="114.97" width="2.20" height="1.4" fill="#a8a8a8"/>
<rect x="448.80" y="117.74" width="2.20" height="1.4" fill="#a8a8a8"/>
<rect x="448.80" y="131.53" width="2.20" height="1.4" fill="#a8a8a8"/>
<rect x="476.90" y="46.07" width="2.20" height="1.4" fill="#a8a8a8"/>
<rect x="476.90" y="51.95" width="2.20" height="1.4" fill="#a8a8a8"/>
<rect x="476.90" y="57.84" width="2.20" height="1.4" fill="#a8a8a8"/>
<rect x="476.90" y="62.16" width="2.20" height="1.4" fill="#a8a8a8"/>
<rect x="476.90" y="70.01" width="2.20" height="1.4" fill="#a8a8a8"/>
<rect x="476.90" y="73.12" width="2.20" height="1.4" fill="#a8a8a8"/>
<rect x="476.90" y="76.73" width="2.20" height="1.4" fill="#a8a8a8"/>
<rect x="476.90" y="79.33" width="2.20" height="1.4" fill="#a8a8a8"/>
<rect x="479.20" y="81.21" width="2.20" height="1.4" fill="#a8a8a8"/>
<rect x="476.90" y="83.87" width="2.20" height="1.4" fill="#a8a8a8"/>
<rect x="479.20" y="84.81" width="2.20" height="1.4" fill="#a8a8a8"/>
<rect x="474.60" y="85.69" width="2.20" height="1.4" fill="#a8a8a8"/>
<rect x="476.90" y="88.53" width="2.20" height="1.4" fill="#a8a8a8"/>
<rect x="479.20" y="89.82" width="2.20" height="1.4" fill="#a8a8a8"/>
<rect x="474.60" y="90.30" width="2.20" height="1.4" fill="#8c8c8c"/>
<rect x="476.90" y="92.69" width="2.20" height="1.4" fill="#8c8c8c"/>
<rect x="479.20" y="93.39" width="2.20" height="1.4" fill="#8c8c8c"/>
<rect x="474.60" y="94.35" width="2.20" height="1.4" fill="#8c8c8c"/>
<rect x="476.90" y="96.71" width="2.20" height="1.4" fill="#8c8c8c"/>
<rect x="479.20" y="97.92" width="2.20" height="1.4" fill="#8c8c8c"/>
<rect x="476.90" y="99.35" width="2.20" height="1.4" fill="#8c8c8c"/>
<rect x="474.60" y="100.23" width="2.20" height="1.4" fill="#8c8c8c"/>
<rect x="476.90" y="102.03" width="2.20" height="1.4" fill="#8c8c8c"/>
<rect x="479.20" y="103.78" width="2.20" height="1.4" fill="#8c8c8c"/>
<rect x="474.60" y="103.85" width="2.20" height="1.4" fill="#8c8c8c"/>
<rect x="476.90" y="105.55" width="2.20" height="1.4" fill="#8c8c8c"/>
<rect x="476.90" y="108.91" width="2.20" height="1.4" fill="#a8a8a8"/>
<rect x="476.90" y="112.98" width="2.20" height="1.4" fill="#a8a8a8"/>
<rect x="479.20" y="114.59" width="2.20" height="1.4" fill="#a8a8a8"/>
<rect x="476.90" y="120.14" width="2.20" height="1.4" fill="#a8a8a8"/>
<rect x="476.90" y="146.35" width="2.20" height="1.4" fill="#a8a8a8"/>
<line x1="325.40" y1="61.40" x2="345.40" y2="61.40" stroke="#000" stroke-width="2" />
<line x1="335.40" y1="55.10" x2="335.40" y2="71.20" stroke="#000" stroke-width="1.4" />
<line x1="329.90" y1="55.10" x2="340.90" y2="55.10" stroke="#000" stroke-width="1.6" />
<line x1="329.90" y1="71.20" x2="340.90" y2="71.20" stroke="#000" stroke-width="1.6" />
<line x1="354.30" y1="72.60" x2="374.30" y2="72.60" stroke="#000" stroke-width="2" />
<line x1="364.30" y1="58.10" x2="364.30" y2="82.00" stroke="#000" stroke-width="1.4" />
<line x1="358.80" y1="58.10" x2="369.80" y2="58.10" stroke="#000" stroke-width="1.6" />
<line x1="358.80" y1="82.00" x2="369.80" y2="82.00" stroke="#000" stroke-width="1.6" />
<line x1="382.50" y1="55.60" x2="402.50" y2="55.60" stroke="#000" stroke-width="2" />
<line x1="392.50" y1="50.20" x2="392.50" y2="62.40" stroke="#000" stroke-width="1.4" />
<line x1="387.00" y1="50.20" x2="398.00" y2="50.20" stroke="#000" stroke-width="1.6" />
<line x1="387.00" y1="62.40" x2="398.00" y2="62.40" stroke="#000" stroke-width="1.6" />
<line x1="411.00" y1="58.90" x2="431.00" y2="58.90" stroke="#000" stroke-width="2" />
<line x1="421.00" y1="52.70" x2="421.00" y2="69.20" stroke="#000" stroke-width="1.4" />
<line x1="415.50" y1="52.70" x2="426.50" y2="52.70" stroke="#000" stroke-width="1.6" />
<line x1="415.50" y1="69.20" x2="426.50" y2="69.20" stroke="#000" stroke-width="1.6" />
<line x1="439.90" y1="91.70" x2="459.90" y2="91.70" stroke="#000" stroke-width="2" />
<line x1="449.90" y1="82.20" x2="449.90" y2="100.30" stroke="#000" stroke-width="1.4" />
<line x1="444.40" y1="82.20" x2="455.40" y2="82.20" stroke="#000" stroke-width="1.6" />
<line x1="444.40" y1="100.30" x2="455.40" y2="100.30" stroke="#000" stroke-width="1.6" />
<line x1="468.00" y1="98.70" x2="488.00" y2="98.70" stroke="#000" stroke-width="2" />
<line x1="478.00" y1="90.80" x2="478.00" y2="105.30" stroke="#000" stroke-width="1.4" />
<line x1="472.50" y1="90.80" x2="483.50" y2="90.80" stroke="#000" stroke-width="1.6" />
<line x1="472.50" y1="105.30" x2="483.50" y2="105.30" stroke="#000" stroke-width="1.6" />
<text x="2.70" y="218.50" font-size="17.6" text-anchor="start" font-weight="bold" style="stroke-width:0.3px">C</text>
<line x1="59.20" y1="244.20" x2="59.20" y2="369.95" stroke="#000" stroke-width="1.6" />
<line x1="58.20" y1="368.95" x2="233.28" y2="368.95" stroke="#000" stroke-width="1.6" />
<line x1="55.70" y1="368.95" x2="59.20" y2="368.95" stroke="#000" stroke-width="1.4" />
<text class="s" x="54.60" y="372.35" font-size="9" text-anchor="end" font-weight="bold" >50</text>
<line x1="55.70" y1="344.10" x2="59.20" y2="344.10" stroke="#000" stroke-width="1.4" />
<text class="s" x="54.60" y="347.50" font-size="9" text-anchor="end" font-weight="bold" >60</text>
<line x1="55.70" y1="319.25" x2="59.20" y2="319.25" stroke="#000" stroke-width="1.4" />
<text class="s" x="54.60" y="322.65" font-size="9" text-anchor="end" font-weight="bold" >70</text>
<line x1="55.70" y1="294.40" x2="59.20" y2="294.40" stroke="#000" stroke-width="1.4" />
<text class="s" x="54.60" y="297.80" font-size="9" text-anchor="end" font-weight="bold" >80</text>
<line x1="55.70" y1="269.55" x2="59.20" y2="269.55" stroke="#000" stroke-width="1.4" />
<text class="s" x="54.60" y="272.95" font-size="9" text-anchor="end" font-weight="bold" >90</text>
<line x1="55.70" y1="244.70" x2="59.20" y2="244.70" stroke="#000" stroke-width="1.4" />
<text class="s" x="54.60" y="248.10" font-size="9" text-anchor="end" font-weight="bold" >100</text>
<line x1="59.20" y1="368.95" x2="59.20" y2="372.15" stroke="#000" stroke-width="1.4" />
<text class="s" x="59.20" y="381.80" font-size="9" text-anchor="middle" font-weight="bold" >0</text>
<line x1="88.08" y1="368.95" x2="88.08" y2="372.15" stroke="#000" stroke-width="1.4" />
<text class="s" x="88.08" y="381.80" font-size="9" text-anchor="middle" font-weight="bold" >10</text>
<line x1="116.96" y1="368.95" x2="116.96" y2="372.15" stroke="#000" stroke-width="1.4" />
<text class="s" x="116.96" y="381.80" font-size="9" text-anchor="middle" font-weight="bold" >20</text>
<line x1="145.84" y1="368.95" x2="145.84" y2="372.15" stroke="#000" stroke-width="1.4" />
<text class="s" x="145.84" y="381.80" font-size="9" text-anchor="middle" font-weight="bold" >30</text>
<line x1="174.72" y1="368.95" x2="174.72" y2="372.15" stroke="#000" stroke-width="1.4" />
<text class="s" x="174.72" y="381.80" font-size="9" text-anchor="middle" font-weight="bold" >40</text>
<line x1="203.60" y1="368.95" x2="203.60" y2="372.15" stroke="#000" stroke-width="1.4" />
<text class="s" x="203.60" y="381.80" font-size="9" text-anchor="middle" font-weight="bold" >50</text>
<line x1="232.48" y1="368.95" x2="232.48" y2="372.15" stroke="#000" stroke-width="1.4" />
<text class="s" x="232.48" y="381.80" font-size="9" text-anchor="middle" font-weight="bold" >60</text>
<text x="145.80" y="405.20" font-size="12" text-anchor="middle" font-weight="bold" >HbF at Baseline (%)</text>
<text transform="translate(16.5,307.0) rotate(-90)" font-size="12.05" text-anchor="middle" font-weight="bold">Combined Methylation</text>
<text transform="translate(32.0,306.2) rotate(-90)" font-size="12.05" text-anchor="middle" font-weight="bold">at Baseline (%)</text>
<rect x="62.45" y="268.15" width="3.1" height="3.1" fill="none" stroke="#4a4a4a" stroke-width="1.2"/>
<rect x="77.65" y="269.95" width="3.1" height="3.1" fill="none" stroke="#4a4a4a" stroke-width="1.2"/>
<rect x="79.05" y="271.05" width="3.1" height="3.1" fill="none" stroke="#4a4a4a" stroke-width="1.2"/>
<rect x="84.95" y="269.35" width="3.1" height="3.1" fill="none" stroke="#4a4a4a" stroke-width="1.2"/>
<rect x="85.15" y="273.05" width="3.1" height="3.1" fill="none" stroke="#4a4a4a" stroke-width="1.2"/>
<rect x="84.45" y="276.25" width="3.1" height="3.1" fill="none" stroke="#4a4a4a" stroke-width="1.2"/>
<rect x="65.25" y="274.05" width="3.1" height="3.1" fill="none" stroke="#4a4a4a" stroke-width="1.2"/>
<rect x="67.65" y="274.95" width="3.1" height="3.1" fill="none" stroke="#4a4a4a" stroke-width="1.2"/>
<rect x="73.45" y="275.75" width="3.1" height="3.1" fill="none" stroke="#4a4a4a" stroke-width="1.2"/>
<rect x="76.45" y="274.95" width="3.1" height="3.1" fill="none" stroke="#4a4a4a" stroke-width="1.2"/>
<rect x="79.35" y="276.15" width="3.1" height="3.1" fill="none" stroke="#4a4a4a" stroke-width="1.2"/>
<rect x="100.25" y="275.75" width="3.1" height="3.1" fill="none" stroke="#4a4a4a" stroke-width="1.2"/>
<rect x="89.55" y="279.35" width="3.1" height="3.1" fill="none" stroke="#4a4a4a" stroke-width="1.2"/>
<rect x="95.35" y="280.85" width="3.1" height="3.1" fill="none" stroke="#4a4a4a" stroke-width="1.2"/>
<rect x="65.25" y="283.25" width="3.1" height="3.1" fill="none" stroke="#4a4a4a" stroke-width="1.2"/>
<rect x="61.35" y="286.15" width="3.1" height="3.1" fill="none" stroke="#4a4a4a" stroke-width="1.2"/>
<rect x="65.25" y="286.15" width="3.1" height="3.1" fill="none" stroke="#4a4a4a" stroke-width="1.2"/>
<rect x="70.55" y="285.25" width="3.1" height="3.1" fill="none" stroke="#4a4a4a" stroke-width="1.2"/>
<rect x="70.55" y="287.45" width="3.1" height="3.1" fill="none" stroke="#4a4a4a" stroke-width="1.2"/>
<rect x="75.45" y="287.45" width="3.1" height="3.1" fill="none" stroke="#4a4a4a" stroke-width="1.2"/>
<rect x="82.75" y="286.15" width="3.1" height="3.1" fill="none" stroke="#4a4a4a" stroke-width="1.2"/>
<rect x="84.65" y="288.65" width="3.1" height="3.1" fill="none" stroke="#4a4a4a" stroke-width="1.2"/>
<rect x="88.05" y="289.55" width="3.1" height="3.1" fill="none" stroke="#4a4a4a" stroke-width="1.2"/>
<rect x="92.45" y="289.55" width="3.1" height="3.1" fill="none" stroke="#4a4a4a" stroke-width="1.2"/>
<rect x="104.15" y="285.95" width="3.1" height="3.1" fill="none" stroke="#4a4a4a" stroke-width="1.2"/>
<rect x="78.85" y="291.55" width="3.1" height="3.1" fill="none" stroke="#4a4a4a" stroke-width="1.2"/>
<rect x="63.75" y="289.55" width="3.1" height="3.1" fill="none" stroke="#4a4a4a" stroke-width="1.2"/>
<rect x="63.75" y="292.05" width="3.1" height="3.1" fill="none" stroke="#4a4a4a" stroke-width="1.2"/>
<rect x="66.15" y="292.05" width="3.1" height="3.1" fill="none" stroke="#4a4a4a" stroke-width="1.2"/>
<rect x="98.25" y="293.95" width="3.1" height="3.1" fill="none" stroke="#4a4a4a" stroke-width="1.2"/>
<rect x="83.65" y="296.85" width="3.1" height="3.1" fill="none" stroke="#4a4a4a" stroke-width="1.2"/>
<rect x="62.75" y="297.35" width="3.1" height="3.1" fill="none" stroke="#4a4a4a" stroke-width="1.2"/>
<rect x="87.25" y="254.25" width="3.1" height="3.1" fill="none" stroke="#4a4a4a" stroke-width="1.2"/>
<rect x="109.65" y="274.55" width="3.1" height="3.1" fill="none" stroke="#4a4a4a" stroke-width="1.2"/>
<rect x="117.45" y="273.55" width="3.1" height="3.1" fill="none" stroke="#4a4a4a" stroke-width="1.2"/>
<rect x="109.35" y="281.95" width="3.1" height="3.1" fill="none" stroke="#4a4a4a" stroke-width="1.2"/>
<rect x="110.35" y="282.75" width="3.1" height="3.1" fill="none" stroke="#4a4a4a" stroke-width="1.2"/>
<rect x="108.45" y="286.15" width="3.1" height="3.1" fill="none" stroke="#4a4a4a" stroke-width="1.2"/>
<rect x="112.75" y="286.65" width="3.1" height="3.1" fill="none" stroke="#4a4a4a" stroke-width="1.2"/>
<rect x="127.85" y="286.45" width="3.1" height="3.1" fill="none" stroke="#4a4a4a" stroke-width="1.2"/>
<rect x="98.95" y="293.95" width="3.1" height="3.1" fill="none" stroke="#4a4a4a" stroke-width="1.2"/>
<rect x="119.05" y="293.95" width="3.1" height="3.1" fill="none" stroke="#4a4a4a" stroke-width="1.2"/>
<rect x="63.55" y="298.75" width="3.1" height="3.1" fill="none" stroke="#4a4a4a" stroke-width="1.2"/>
<rect x="58.75" y="285.75" width="3.1" height="3.1" fill="none" stroke="#4a4a4a" stroke-width="1.2"/>
<rect x="84.05" y="297.55" width="3.1" height="3.1" fill="none" stroke="#4a4a4a" stroke-width="1.2"/>
<rect x="90.35" y="300.25" width="3.1" height="3.1" fill="none" stroke="#4a4a4a" stroke-width="1.2"/>
<rect x="94.35" y="309.75" width="3.1" height="3.1" fill="none" stroke="#4a4a4a" stroke-width="1.2"/>
<rect x="113.25" y="300.25" width="3.1" height="3.1" fill="none" stroke="#4a4a4a" stroke-width="1.2"/>
<rect x="114.45" y="318.85" width="3.1" height="3.1" fill="none" stroke="#4a4a4a" stroke-width="1.2"/>
<rect x="124.25" y="327.05" width="3.1" height="3.1" fill="none" stroke="#4a4a4a" stroke-width="1.2"/>
<line x1="59.5" y1="281" x2="129.6" y2="294.1" stroke="#000" stroke-width="1.7"/>
<path d="M59.50,277.30 L62.42,278.15 L65.34,278.99 L68.26,279.80 L71.18,280.58 L74.10,281.32 L77.03,282.01 L79.95,282.63 L82.87,283.19 L85.79,283.68 L88.71,284.11 L91.63,284.48 L94.55,284.81 L97.47,285.10 L100.39,285.37 L103.31,285.62 L106.23,285.84 L109.15,286.06 L112.07,286.27 L115.00,286.47 L117.92,286.66 L120.84,286.85 L123.76,287.04 L126.68,287.22 L129.60,287.40" fill="none" stroke="#000" stroke-width="1.2" stroke-dasharray="3.8,2.3"/>
<path d="M59.50,284.70 L62.42,284.94 L65.34,285.19 L68.26,285.48 L71.18,285.79 L74.10,286.14 L77.03,286.54 L79.95,287.01 L82.87,287.54 L85.79,288.14 L88.71,288.80 L91.63,289.52 L94.55,290.29 L97.47,291.09 L100.39,291.91 L103.31,292.76 L106.23,293.62 L109.15,294.50 L112.07,295.38 L115.00,296.27 L117.92,297.17 L120.84,298.07 L123.76,298.98 L126.68,299.89 L129.60,300.80" fill="none" stroke="#000" stroke-width="1.2" stroke-dasharray="3.8,2.3"/>
<rect x="190.6" y="234.8" width="43.8" height="22.4" fill="none" stroke="#000" stroke-width="1.3"/>
<text class="s" x="192.90" y="244.40" font-size="8.3" text-anchor="start" font-weight="bold" style="stroke-width:0.15px">r = -.314</text>
<text class="s" x="192.90" y="253.60" font-size="8.3" text-anchor="start" font-weight="bold" style="stroke-width:0.15px">p = .0069</text>
<text x="273.00" y="218.90" font-size="17.2" text-anchor="start" font-weight="bold" style="stroke-width:0.3px">D</text>
<line x1="320.40" y1="244.80" x2="320.40" y2="370.50" stroke="#000" stroke-width="1.6" />
<line x1="319.40" y1="369.50" x2="507.92" y2="369.50" stroke="#000" stroke-width="1.6" />
<line x1="316.90" y1="369.50" x2="320.40" y2="369.50" stroke="#000" stroke-width="1.4" />
<text class="s" x="315.80" y="372.90" font-size="9" text-anchor="end" font-weight="bold" >50</text>
<line x1="316.90" y1="344.66" x2="320.40" y2="344.66" stroke="#000" stroke-width="1.4" />
<text class="s" x="315.80" y="348.06" font-size="9" text-anchor="end" font-weight="bold" >60</text>
<line x1="316.90" y1="319.82" x2="320.40" y2="319.82" stroke="#000" stroke-width="1.4" />
<text class="s" x="315.80" y="323.22" font-size="9" text-anchor="end" font-weight="bold" >70</text>
<line x1="316.90" y1="294.98" x2="320.40" y2="294.98" stroke="#000" stroke-width="1.4" />
<text class="s" x="315.80" y="298.38" font-size="9" text-anchor="end" font-weight="bold" >80</text>
<line x1="316.90" y1="270.14" x2="320.40" y2="270.14" stroke="#000" stroke-width="1.4" />
<text class="s" x="315.80" y="273.54" font-size="9" text-anchor="end" font-weight="bold" >90</text>
<line x1="316.90" y1="245.30" x2="320.40" y2="245.30" stroke="#000" stroke-width="1.4" />
<text class="s" x="315.80" y="248.70" font-size="9" text-anchor="end" font-weight="bold" >100</text>
<line x1="320.40" y1="369.50" x2="320.40" y2="372.70" stroke="#000" stroke-width="1.4" />
<text class="s" x="320.40" y="382.40" font-size="9" text-anchor="middle" font-weight="bold" >0</text>
<line x1="351.52" y1="369.50" x2="351.52" y2="372.70" stroke="#000" stroke-width="1.4" />
<text class="s" x="351.52" y="382.40" font-size="9" text-anchor="middle" font-weight="bold" >10</text>
<line x1="382.64" y1="369.50" x2="382.64" y2="372.70" stroke="#000" stroke-width="1.4" />
<text class="s" x="382.64" y="382.40" font-size="9" text-anchor="middle" font-weight="bold" >20</text>
<line x1="413.76" y1="369.50" x2="413.76" y2="372.70" stroke="#000" stroke-width="1.4" />
<text class="s" x="413.76" y="382.40" font-size="9" text-anchor="middle" font-weight="bold" >30</text>
<line x1="444.88" y1="369.50" x2="444.88" y2="372.70" stroke="#000" stroke-width="1.4" />
<text class="s" x="444.88" y="382.40" font-size="9" text-anchor="middle" font-weight="bold" >40</text>
<line x1="476.00" y1="369.50" x2="476.00" y2="372.70" stroke="#000" stroke-width="1.4" />
<text class="s" x="476.00" y="382.40" font-size="9" text-anchor="middle" font-weight="bold" >50</text>
<line x1="507.12" y1="369.50" x2="507.12" y2="372.70" stroke="#000" stroke-width="1.4" />
<text class="s" x="507.12" y="382.40" font-size="9" text-anchor="middle" font-weight="bold" >60</text>
<text x="413.00" y="406.30" font-size="12" text-anchor="middle" font-weight="bold" >HbF at MTD (%)</text>
<text transform="translate(281.9,307.0) rotate(-90)" font-size="12.05" text-anchor="middle" font-weight="bold">Combined Methylation</text>
<text transform="translate(295.9,306.1) rotate(-90)" font-size="12.05" text-anchor="middle" font-weight="bold">at MTD (%)</text>
<rect x="387.65" y="249.95" width="3.1" height="3.1" fill="none" stroke="#4a4a4a" stroke-width="1.2"/>
<rect x="353.15" y="264.25" width="3.1" height="3.1" fill="none" stroke="#4a4a4a" stroke-width="1.2"/>
<rect x="357.55" y="267.45" width="3.1" height="3.1" fill="none" stroke="#4a4a4a" stroke-width="1.2"/>
<rect x="355.65" y="271.05" width="3.1" height="3.1" fill="none" stroke="#4a4a4a" stroke-width="1.2"/>
<rect x="356.55" y="274.05" width="3.1" height="3.1" fill="none" stroke="#4a4a4a" stroke-width="1.2"/>
<rect x="359.75" y="274.05" width="3.1" height="3.1" fill="none" stroke="#4a4a4a" stroke-width="1.2"/>
<rect x="361.95" y="277.95" width="3.1" height="3.1" fill="none" stroke="#4a4a4a" stroke-width="1.2"/>
<rect x="363.35" y="281.75" width="3.1" height="3.1" fill="none" stroke="#4a4a4a" stroke-width="1.2"/>
<rect x="348.35" y="284.25" width="3.1" height="3.1" fill="none" stroke="#4a4a4a" stroke-width="1.2"/>
<rect x="349.25" y="292.65" width="3.1" height="3.1" fill="none" stroke="#4a4a4a" stroke-width="1.2"/>
<rect x="349.45" y="290.65" width="3.1" height="3.1" fill="none" stroke="#4a4a4a" stroke-width="1.2"/>
<rect x="368.25" y="287.65" width="3.1" height="3.1" fill="none" stroke="#4a4a4a" stroke-width="1.2"/>
<rect x="371.65" y="284.75" width="3.1" height="3.1" fill="none" stroke="#4a4a4a" stroke-width="1.2"/>
<rect x="376.55" y="292.05" width="3.1" height="3.1" fill="none" stroke="#4a4a4a" stroke-width="1.2"/>
<rect x="389.15" y="270.65" width="3.1" height="3.1" fill="none" stroke="#4a4a4a" stroke-width="1.2"/>
<rect x="392.55" y="279.85" width="3.1" height="3.1" fill="none" stroke="#4a4a4a" stroke-width="1.2"/>
<rect x="382.35" y="282.25" width="3.1" height="3.1" fill="none" stroke="#4a4a4a" stroke-width="1.2"/>
<rect x="388.15" y="296.45" width="3.1" height="3.1" fill="none" stroke="#4a4a4a" stroke-width="1.2"/>
<rect x="405.15" y="274.45" width="3.1" height="3.1" fill="none" stroke="#4a4a4a" stroke-width="1.2"/>
<rect x="409.05" y="281.45" width="3.1" height="3.1" fill="none" stroke="#4a4a4a" stroke-width="1.2"/>
<rect x="380.45" y="283.05" width="3.1" height="3.1" fill="none" stroke="#4a4a4a" stroke-width="1.2"/>
<rect x="384.65" y="284.05" width="3.1" height="3.1" fill="none" stroke="#4a4a4a" stroke-width="1.2"/>
<rect x="389.05" y="291.25" width="3.1" height="3.1" fill="none" stroke="#4a4a4a" stroke-width="1.2"/>
<rect x="384.95" y="290.85" width="3.1" height="3.1" fill="none" stroke="#4a4a4a" stroke-width="1.2"/>
<rect x="382.65" y="286.65" width="3.1" height="3.1" fill="none" stroke="#4a4a4a" stroke-width="1.2"/>
<rect x="386.45" y="287.05" width="3.1" height="3.1" fill="none" stroke="#4a4a4a" stroke-width="1.2"/>
<rect x="389.95" y="288.25" width="3.1" height="3.1" fill="none" stroke="#4a4a4a" stroke-width="1.2"/>
<rect x="393.45" y="289.25" width="3.1" height="3.1" fill="none" stroke="#4a4a4a" stroke-width="1.2"/>
<rect x="384.45" y="288.85" width="3.1" height="3.1" fill="none" stroke="#4a4a4a" stroke-width="1.2"/>
<rect x="398.95" y="283.35" width="3.1" height="3.1" fill="none" stroke="#4a4a4a" stroke-width="1.2"/>
<rect x="403.75" y="283.35" width="3.1" height="3.1" fill="none" stroke="#4a4a4a" stroke-width="1.2"/>
<rect x="412.35" y="285.55" width="3.1" height="3.1" fill="none" stroke="#4a4a4a" stroke-width="1.2"/>
<rect x="386.95" y="287.65" width="3.1" height="3.1" fill="none" stroke="#4a4a4a" stroke-width="1.2"/>
<rect x="390.75" y="289.65" width="3.1" height="3.1" fill="none" stroke="#4a4a4a" stroke-width="1.2"/>
<rect x="376.35" y="292.45" width="3.1" height="3.1" fill="none" stroke="#4a4a4a" stroke-width="1.2"/>
<rect x="398.45" y="295.35" width="3.1" height="3.1" fill="none" stroke="#4a4a4a" stroke-width="1.2"/>
<rect x="404.25" y="296.35" width="3.1" height="3.1" fill="none" stroke="#4a4a4a" stroke-width="1.2"/>
<rect x="403.25" y="299.25" width="3.1" height="3.1" fill="none" stroke="#4a4a4a" stroke-width="1.2"/>
<rect x="412.85" y="294.45" width="3.1" height="3.1" fill="none" stroke="#4a4a4a" stroke-width="1.2"/>
<rect x="376.35" y="300.15" width="3.1" height="3.1" fill="none" stroke="#4a4a4a" stroke-width="1.2"/>
<rect x="378.75" y="298.75" width="3.1" height="3.1" fill="none" stroke="#4a4a4a" stroke-width="1.2"/>
<rect x="407.15" y="302.15" width="3.1" height="3.1" fill="none" stroke="#4a4a4a" stroke-width="1.2"/>
<rect x="414.95" y="266.45" width="3.1" height="3.1" fill="none" stroke="#4a4a4a" stroke-width="1.2"/>
<rect x="433.65" y="255.35" width="3.1" height="3.1" fill="none" stroke="#4a4a4a" stroke-width="1.2"/>
<rect x="427.75" y="279.65" width="3.1" height="3.1" fill="none" stroke="#4a4a4a" stroke-width="1.2"/>
<rect x="441.45" y="284.15" width="3.1" height="3.1" fill="none" stroke="#4a4a4a" stroke-width="1.2"/>
<rect x="437.55" y="287.05" width="3.1" height="3.1" fill="none" stroke="#4a4a4a" stroke-width="1.2"/>
<rect x="456.95" y="291.95" width="3.1" height="3.1" fill="none" stroke="#4a4a4a" stroke-width="1.2"/>
<rect x="492.35" y="280.85" width="3.1" height="3.1" fill="none" stroke="#4a4a4a" stroke-width="1.2"/>
<rect x="419.45" y="305.55" width="3.1" height="3.1" fill="none" stroke="#4a4a4a" stroke-width="1.2"/>
<rect x="422.35" y="305.55" width="3.1" height="3.1" fill="none" stroke="#4a4a4a" stroke-width="1.2"/>
<rect x="433.05" y="302.65" width="3.1" height="3.1" fill="none" stroke="#4a4a4a" stroke-width="1.2"/>
<rect x="443.35" y="306.55" width="3.1" height="3.1" fill="none" stroke="#4a4a4a" stroke-width="1.2"/>
<rect x="456.95" y="306.55" width="3.1" height="3.1" fill="none" stroke="#4a4a4a" stroke-width="1.2"/>
<rect x="428.15" y="312.35" width="3.1" height="3.1" fill="none" stroke="#4a4a4a" stroke-width="1.2"/>
<rect x="435.55" y="311.45" width="3.1" height="3.1" fill="none" stroke="#4a4a4a" stroke-width="1.2"/>
<rect x="431.05" y="317.25" width="3.1" height="3.1" fill="none" stroke="#4a4a4a" stroke-width="1.2"/>
<rect x="382.45" y="309.65" width="3.1" height="3.1" fill="none" stroke="#4a4a4a" stroke-width="1.2"/>
<rect x="406.55" y="306.15" width="3.1" height="3.1" fill="none" stroke="#4a4a4a" stroke-width="1.2"/>
<rect x="372.25" y="343.05" width="3.1" height="3.1" fill="none" stroke="#4a4a4a" stroke-width="1.2"/>
<rect x="437.25" y="342.25" width="3.1" height="3.1" fill="none" stroke="#4a4a4a" stroke-width="1.2"/>
<line x1="349" y1="284.3" x2="493" y2="305.8" stroke="#000" stroke-width="1.7"/>
<path d="M349.00,276.82 L355.00,278.28 L361.00,279.72 L367.00,281.11 L373.00,282.45 L379.00,283.72 L385.00,284.90 L391.00,285.99 L397.00,286.97 L403.00,287.82 L409.00,288.56 L415.00,289.20 L421.00,289.75 L427.00,290.22 L433.00,290.64 L439.00,291.01 L445.00,291.34 L451.00,291.65 L457.00,291.93 L463.00,292.20 L469.00,292.45 L475.00,292.69 L481.00,292.92 L487.00,293.15 L493.00,293.36" fill="none" stroke="#000" stroke-width="1.2" stroke-dasharray="3.8,2.3"/>
<path d="M349.00,291.78 L355.00,292.11 L361.00,292.47 L367.00,292.87 L373.00,293.32 L379.00,293.84 L385.00,294.45 L391.00,295.15 L397.00,295.97 L403.00,296.90 L409.00,297.95 L415.00,299.11 L421.00,300.35 L427.00,301.67 L433.00,303.05 L439.00,304.47 L445.00,305.92 L451.00,307.41 L457.00,308.92 L463.00,310.44 L469.00,311.98 L475.00,313.53 L481.00,315.09 L487.00,316.66 L493.00,318.24" fill="none" stroke="#000" stroke-width="1.2" stroke-dasharray="3.8,2.3"/>
<rect x="478.4" y="235.2" width="38.6" height="22.5" fill="none" stroke="#000" stroke-width="1.3"/>
<text class="s" x="480.60" y="244.80" font-size="8.3" text-anchor="start" font-weight="bold" style="stroke-width:0.15px">r = -.275</text>
<text class="s" x="480.60" y="254.00" font-size="8.3" text-anchor="start" font-weight="bold" style="stroke-width:0.15px">p = .03</text>
</g>
</svg></body></html>
